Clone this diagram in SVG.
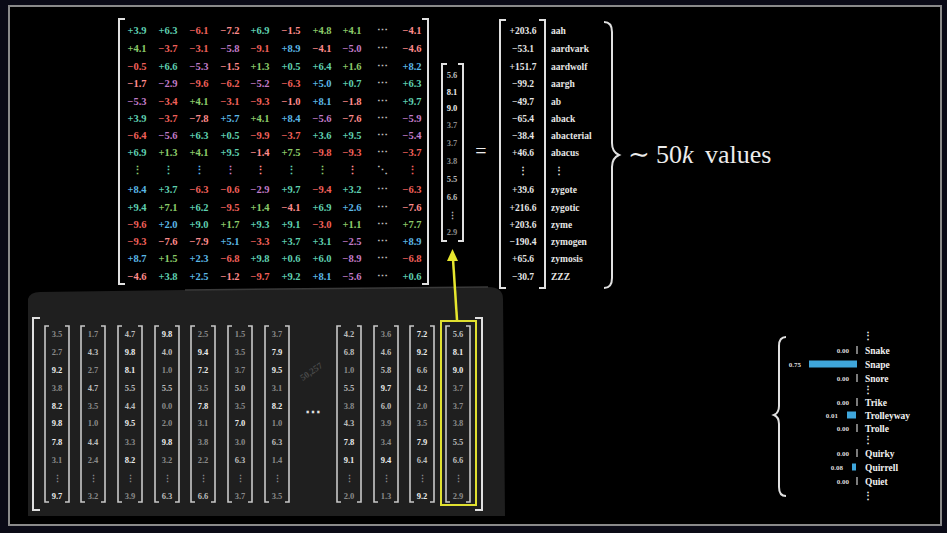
<svg xmlns="http://www.w3.org/2000/svg" width="947" height="533" viewBox="0 0 947 533">
<style>
text{font-family:"Liberation Serif","DejaVu Serif",serif;font-weight:bold}
.m{font-size:10.5px;text-anchor:middle}
.p1{fill:#5FD0B0}.p2{fill:#8CCB6A}.p3{fill:#5CB8E6}
.n1{fill:#F0605A}.n2{fill:#FF8C8C}.n3{fill:#C27CC8}
.dt{fill:#bbbbbb}
.br{fill:none;stroke:#e0e0e0;stroke-width:2}
.sbr{fill:none;stroke:#c8c8c8;stroke-width:1.6}
.sv{font-size:8.5px;text-anchor:middle}
.b1{fill:#8a8a8a}.b2{fill:#bdbdbd}.b3{fill:#ececec}
.ov{font-size:9.5px;text-anchor:middle;fill:#e6e6e6}
.lb{font-size:9.5px;fill:#e6e6e6}
.sm{font-size:7px;fill:#dddddd;text-anchor:end}
.sl{font-size:9.5px;fill:#f0f0f0}
.tk{stroke:#cfcfcf;stroke-width:1.2}
.bar{fill:#3FA6DB}
</style>
<rect x="0" y="0" width="947" height="533" fill="#0a0a16"/>
<rect x="9" y="6" width="932" height="519" fill="#000" stroke="#8a8a8a" stroke-width="2"/>

<g id="weight-matrix">
<path class="br" d="M125 19 L119 19 L119 284 L125 284"/>
<path class="br" d="M422 19 L428 19 L428 284 L422 284"/>
<text class="m" y="34"><tspan x="137" class="p1">+3.9</tspan><tspan x="168" class="p1">+6.3</tspan><tspan x="199" class="n1">−6.1</tspan><tspan x="230" class="n2">−7.2</tspan><tspan x="260" class="p1">+6.9</tspan><tspan x="291" class="n2">−1.5</tspan><tspan x="322" class="p2">+4.8</tspan><tspan x="352" class="p2">+4.1</tspan><tspan x="382" class="dt">⋯</tspan><tspan x="412" class="n2">−4.1</tspan></text>
<text class="m" y="52"><tspan x="137" class="p2">+4.1</tspan><tspan x="168" class="n1">−3.7</tspan><tspan x="199" class="n1">−3.1</tspan><tspan x="230" class="n3">−5.8</tspan><tspan x="260" class="n1">−9.1</tspan><tspan x="291" class="p3">+8.9</tspan><tspan x="322" class="n2">−4.1</tspan><tspan x="352" class="n3">−5.0</tspan><tspan x="382" class="dt">⋯</tspan><tspan x="412" class="n2">−4.6</tspan></text>
<text class="m" y="70"><tspan x="137" class="n1">−0.5</tspan><tspan x="168" class="p1">+6.6</tspan><tspan x="199" class="n3">−5.3</tspan><tspan x="230" class="n2">−1.5</tspan><tspan x="260" class="p2">+1.3</tspan><tspan x="291" class="p1">+0.5</tspan><tspan x="322" class="p1">+6.4</tspan><tspan x="352" class="p2">+1.6</tspan><tspan x="382" class="dt">⋯</tspan><tspan x="412" class="p3">+8.2</tspan></text>
<text class="m" y="87"><tspan x="137" class="n2">−1.7</tspan><tspan x="168" class="n3">−2.9</tspan><tspan x="199" class="n1">−9.6</tspan><tspan x="230" class="n1">−6.2</tspan><tspan x="260" class="n3">−5.2</tspan><tspan x="291" class="n1">−6.3</tspan><tspan x="322" class="p3">+5.0</tspan><tspan x="352" class="p1">+0.7</tspan><tspan x="382" class="dt">⋯</tspan><tspan x="412" class="p1">+6.3</tspan></text>
<text class="m" y="105"><tspan x="137" class="n3">−5.3</tspan><tspan x="168" class="n1">−3.4</tspan><tspan x="199" class="p2">+4.1</tspan><tspan x="230" class="n1">−3.1</tspan><tspan x="260" class="n1">−9.3</tspan><tspan x="291" class="n2">−1.0</tspan><tspan x="322" class="p3">+8.1</tspan><tspan x="352" class="n2">−1.8</tspan><tspan x="382" class="dt">⋯</tspan><tspan x="412" class="p1">+9.7</tspan></text>
<text class="m" y="122"><tspan x="137" class="p1">+3.9</tspan><tspan x="168" class="n1">−3.7</tspan><tspan x="199" class="n2">−7.8</tspan><tspan x="230" class="p3">+5.7</tspan><tspan x="260" class="p2">+4.1</tspan><tspan x="291" class="p3">+8.4</tspan><tspan x="322" class="n3">−5.6</tspan><tspan x="352" class="n2">−7.6</tspan><tspan x="382" class="dt">⋯</tspan><tspan x="412" class="n3">−5.9</tspan></text>
<text class="m" y="139"><tspan x="137" class="n1">−6.4</tspan><tspan x="168" class="n3">−5.6</tspan><tspan x="199" class="p1">+6.3</tspan><tspan x="230" class="p1">+0.5</tspan><tspan x="260" class="n1">−9.9</tspan><tspan x="291" class="n1">−3.7</tspan><tspan x="322" class="p1">+3.6</tspan><tspan x="352" class="p1">+9.5</tspan><tspan x="382" class="dt">⋯</tspan><tspan x="412" class="n3">−5.4</tspan></text>
<text class="m" y="156"><tspan x="137" class="p1">+6.9</tspan><tspan x="168" class="p2">+1.3</tspan><tspan x="199" class="p2">+4.1</tspan><tspan x="230" class="p1">+9.5</tspan><tspan x="260" class="n2">−1.4</tspan><tspan x="291" class="p2">+7.5</tspan><tspan x="322" class="n1">−9.8</tspan><tspan x="352" class="n1">−9.3</tspan><tspan x="382" class="dt">⋯</tspan><tspan x="412" class="n1">−3.7</tspan></text>
<text class="m" y="174"><tspan x="137" class="p2">⋮</tspan><tspan x="168" class="p1">⋮</tspan><tspan x="199" class="p3">⋮</tspan><tspan x="230" class="n3">⋮</tspan><tspan x="260" class="n2">⋮</tspan><tspan x="291" class="p1">⋮</tspan><tspan x="322" class="p2">⋮</tspan><tspan x="352" class="n2">⋮</tspan><tspan x="382" class="dt">⋱</tspan><tspan x="412" class="n1">⋮</tspan></text>
<text class="m" y="193"><tspan x="137" class="p3">+8.4</tspan><tspan x="168" class="p1">+3.7</tspan><tspan x="199" class="n1">−6.3</tspan><tspan x="230" class="n1">−0.6</tspan><tspan x="260" class="n3">−2.9</tspan><tspan x="291" class="p1">+9.7</tspan><tspan x="322" class="n1">−9.4</tspan><tspan x="352" class="p1">+3.2</tspan><tspan x="382" class="dt">⋯</tspan><tspan x="412" class="n1">−6.3</tspan></text>
<text class="m" y="211"><tspan x="137" class="p1">+9.4</tspan><tspan x="168" class="p2">+7.1</tspan><tspan x="199" class="p1">+6.2</tspan><tspan x="230" class="n1">−9.5</tspan><tspan x="260" class="p2">+1.4</tspan><tspan x="291" class="n2">−4.1</tspan><tspan x="322" class="p1">+6.9</tspan><tspan x="352" class="p3">+2.6</tspan><tspan x="382" class="dt">⋯</tspan><tspan x="412" class="n2">−7.6</tspan></text>
<text class="m" y="228"><tspan x="137" class="n1">−9.6</tspan><tspan x="168" class="p3">+2.0</tspan><tspan x="199" class="p1">+9.0</tspan><tspan x="230" class="p2">+1.7</tspan><tspan x="260" class="p1">+9.3</tspan><tspan x="291" class="p1">+9.1</tspan><tspan x="322" class="n1">−3.0</tspan><tspan x="352" class="p2">+1.1</tspan><tspan x="382" class="dt">⋯</tspan><tspan x="412" class="p2">+7.7</tspan></text>
<text class="m" y="245"><tspan x="137" class="n1">−9.3</tspan><tspan x="168" class="n2">−7.6</tspan><tspan x="199" class="n2">−7.9</tspan><tspan x="230" class="p3">+5.1</tspan><tspan x="260" class="n1">−3.3</tspan><tspan x="291" class="p1">+3.7</tspan><tspan x="322" class="p1">+3.1</tspan><tspan x="352" class="n3">−2.5</tspan><tspan x="382" class="dt">⋯</tspan><tspan x="412" class="p3">+8.9</tspan></text>
<text class="m" y="262"><tspan x="137" class="p3">+8.7</tspan><tspan x="168" class="p2">+1.5</tspan><tspan x="199" class="p3">+2.3</tspan><tspan x="230" class="n1">−6.8</tspan><tspan x="260" class="p1">+9.8</tspan><tspan x="291" class="p1">+0.6</tspan><tspan x="322" class="p1">+6.0</tspan><tspan x="352" class="n3">−8.9</tspan><tspan x="382" class="dt">⋯</tspan><tspan x="412" class="n1">−6.8</tspan></text>
<text class="m" y="280"><tspan x="137" class="n2">−4.6</tspan><tspan x="168" class="p1">+3.8</tspan><tspan x="199" class="p3">+2.5</tspan><tspan x="230" class="n2">−1.2</tspan><tspan x="260" class="n1">−9.7</tspan><tspan x="291" class="p1">+9.2</tspan><tspan x="322" class="p3">+8.1</tspan><tspan x="352" class="n3">−5.6</tspan><tspan x="382" class="dt">⋯</tspan><tspan x="412" class="p1">+0.6</tspan></text>
</g>

<g id="input-vector">
<path class="br" d="M447 64 L442 64 L442 241 L447 241"/>
<path class="br" d="M458 64 L463 64 L463 241 L458 241"/>
<text class="sv" x="452"><tspan x="452" y="78" class="b2">5.6</tspan><tspan x="452" y="95" class="b3">8.1</tspan><tspan x="452" y="111" class="b3">9.0</tspan><tspan x="452" y="128" class="b1">3.7</tspan><tspan x="452" y="146" class="b1">3.7</tspan><tspan x="452" y="164" class="b1">3.8</tspan><tspan x="452" y="182" class="b2">5.5</tspan><tspan x="452" y="200" class="b2">6.6</tspan><tspan x="452" y="219" class="b2">⋮</tspan><tspan x="452" y="235" class="b1">2.9</tspan></text>
</g>

<g id="equals">
<text x="481" y="158" style="font-size:20px;font-weight:normal;fill:#eeeeee;text-anchor:middle">=</text>
</g>

<g id="output-vector">
<path class="br" d="M506 20 L500 20 L500 288 L506 288"/>
<path class="br" d="M539 20 L545 20 L545 288 L539 288"/>
<text class="ov"><tspan x="523" y="33.5">+203.6</tspan><tspan x="523" y="51.5">−53.1</tspan><tspan x="523" y="69.5">+151.7</tspan><tspan x="523" y="86.5">−99.2</tspan><tspan x="523" y="104.5">−49.7</tspan><tspan x="523" y="121.5">−65.4</tspan><tspan x="523" y="138.5">−38.4</tspan><tspan x="523" y="155.5">+46.6</tspan><tspan x="523" y="174">⋮</tspan><tspan x="523" y="192.5">+39.6</tspan><tspan x="523" y="210.5">+216.6</tspan><tspan x="523" y="227.5">+203.6</tspan><tspan x="523" y="244.5">−190.4</tspan><tspan x="523" y="261.5">+65.6</tspan><tspan x="523" y="279.5">−30.7</tspan></text>
<text class="lb"><tspan x="551" y="33.5">aah</tspan><tspan x="551" y="51.5">aardvark</tspan><tspan x="551" y="69.5">aardwolf</tspan><tspan x="551" y="86.5">aargh</tspan><tspan x="551" y="104.5">ab</tspan><tspan x="551" y="121.5">aback</tspan><tspan x="551" y="138.5">abacterial</tspan><tspan x="551" y="155.5">abacus</tspan><tspan x="554" y="174">⋮</tspan><tspan x="551" y="192.5">zygote</tspan><tspan x="551" y="210.5">zygotic</tspan><tspan x="551" y="227.5">zyme</tspan><tspan x="551" y="244.5">zymogen</tspan><tspan x="551" y="261.5">zymosis</tspan><tspan x="551" y="279.5">ZZZ</tspan></text>
</g>

<g id="vocab-brace">
<path class="br" d="M604 22 Q612 22 612 32 L612 143 Q612 152 619 155 Q612 158 612 167 L612 278 Q612 288 604 288"/>
<text y="163" style="font-size:26px;font-weight:normal;fill:#ececec"><tspan x="628">∼</tspan><tspan x="656">50</tspan><tspan font-style="italic">k</tspan><tspan x="705">values</tspan></text>
</g>

<g id="embedding-panel">
<path d="M28 299 Q30 292 40 292 L185 290 L488 287 Q503 287 503 299 L505 516 L28 516 Z" fill="#1f1f1f"/>
<path d="M185 290 L488 287" stroke="#3a3a3a" stroke-width="1.5" fill="none"/>
<path class="br" d="M40 318 L33 318 L33 510 L40 510"/>
<path class="br" d="M475 318 L482 318 L482 510 L475 510"/>
<g id="col-1"><path class="sbr" d="M49 326 L45 326 L45 502 L49 502 M65 326 L69 326 L69 502 L65 502"/><text class="sv"><tspan x="57" y="337" class="b1">3.5</tspan><tspan x="57" y="355" class="b1">2.7</tspan><tspan x="57" y="373" class="b3">9.2</tspan><tspan x="57" y="391" class="b1">3.8</tspan><tspan x="57" y="409" class="b3">8.2</tspan><tspan x="57" y="426" class="b3">9.8</tspan><tspan x="57" y="445" class="b3">7.8</tspan><tspan x="57" y="463" class="b1">3.1</tspan><tspan x="57" y="482" class="b1">⋮</tspan><tspan x="57" y="499" class="b3">9.7</tspan></text></g>
<g id="col-2"><path class="sbr" d="M85 326 L81 326 L81 502 L85 502 M101 326 L105 326 L105 502 L101 502"/><text class="sv"><tspan x="93" y="337" class="b1">1.7</tspan><tspan x="93" y="355" class="b2">4.3</tspan><tspan x="93" y="373" class="b1">2.7</tspan><tspan x="93" y="391" class="b2">4.7</tspan><tspan x="93" y="409" class="b1">3.5</tspan><tspan x="93" y="426" class="b1">1.0</tspan><tspan x="93" y="445" class="b2">4.4</tspan><tspan x="93" y="463" class="b1">2.4</tspan><tspan x="93" y="482" class="b1">⋮</tspan><tspan x="93" y="499" class="b1">3.2</tspan></text></g>
<g id="col-3"><path class="sbr" d="M122 326 L118 326 L118 502 L122 502 M138 326 L142 326 L142 502 L138 502"/><text class="sv"><tspan x="130" y="337" class="b2">4.7</tspan><tspan x="130" y="355" class="b3">9.8</tspan><tspan x="130" y="373" class="b3">8.1</tspan><tspan x="130" y="391" class="b2">5.5</tspan><tspan x="130" y="409" class="b2">4.4</tspan><tspan x="130" y="426" class="b3">9.5</tspan><tspan x="130" y="445" class="b1">3.3</tspan><tspan x="130" y="463" class="b3">8.2</tspan><tspan x="130" y="482" class="b1">⋮</tspan><tspan x="130" y="499" class="b1">3.9</tspan></text></g>
<g id="col-4"><path class="sbr" d="M159 326 L155 326 L155 502 L159 502 M175 326 L179 326 L179 502 L175 502"/><text class="sv"><tspan x="167" y="337" class="b3">9.8</tspan><tspan x="167" y="355" class="b2">4.0</tspan><tspan x="167" y="373" class="b1">1.0</tspan><tspan x="167" y="391" class="b2">5.5</tspan><tspan x="167" y="409" class="b1">0.0</tspan><tspan x="167" y="426" class="b1">2.0</tspan><tspan x="167" y="445" class="b3">9.8</tspan><tspan x="167" y="463" class="b1">3.2</tspan><tspan x="167" y="482" class="b1">⋮</tspan><tspan x="167" y="499" class="b2">6.3</tspan></text></g>
<g id="col-5"><path class="sbr" d="M195 326 L191 326 L191 502 L195 502 M211 326 L215 326 L215 502 L211 502"/><text class="sv"><tspan x="203" y="337" class="b1">2.5</tspan><tspan x="203" y="355" class="b3">9.4</tspan><tspan x="203" y="373" class="b3">7.2</tspan><tspan x="203" y="391" class="b1">3.5</tspan><tspan x="203" y="409" class="b3">7.8</tspan><tspan x="203" y="426" class="b1">3.1</tspan><tspan x="203" y="445" class="b1">3.8</tspan><tspan x="203" y="463" class="b1">2.2</tspan><tspan x="203" y="482" class="b1">⋮</tspan><tspan x="203" y="499" class="b2">6.6</tspan></text></g>
<g id="col-6"><path class="sbr" d="M232 326 L228 326 L228 502 L232 502 M248 326 L252 326 L252 502 L248 502"/><text class="sv"><tspan x="240" y="337" class="b1">1.5</tspan><tspan x="240" y="355" class="b1">3.5</tspan><tspan x="240" y="373" class="b1">3.7</tspan><tspan x="240" y="391" class="b2">5.0</tspan><tspan x="240" y="409" class="b1">3.5</tspan><tspan x="240" y="426" class="b3">7.0</tspan><tspan x="240" y="445" class="b1">3.0</tspan><tspan x="240" y="463" class="b2">6.3</tspan><tspan x="240" y="482" class="b1">⋮</tspan><tspan x="240" y="499" class="b1">3.7</tspan></text></g>
<g id="col-7"><path class="sbr" d="M269 326 L265 326 L265 502 L269 502 M285 326 L289 326 L289 502 L285 502"/><text class="sv"><tspan x="277" y="337" class="b1">3.7</tspan><tspan x="277" y="355" class="b3">7.9</tspan><tspan x="277" y="373" class="b3">9.5</tspan><tspan x="277" y="391" class="b1">3.1</tspan><tspan x="277" y="409" class="b3">8.2</tspan><tspan x="277" y="426" class="b1">1.0</tspan><tspan x="277" y="445" class="b2">6.3</tspan><tspan x="277" y="463" class="b1">1.4</tspan><tspan x="277" y="482" class="b1">⋮</tspan><tspan x="277" y="499" class="b1">3.5</tspan></text></g>
<text x="313" y="374" transform="rotate(-35 313 374)" style="font-size:9px;fill:#4a4a4a;text-anchor:middle">50,257</text>
<text x="313" y="417" style="font-size:16px;fill:#e0e0e0;text-anchor:middle">⋯</text>
<g id="col-8"><path class="sbr" d="M341 326 L337 326 L337 502 L341 502 M357 326 L361 326 L361 502 L357 502"/><text class="sv"><tspan x="349" y="337" class="b2">4.2</tspan><tspan x="349" y="355" class="b2">6.8</tspan><tspan x="349" y="373" class="b1">1.0</tspan><tspan x="349" y="391" class="b2">5.5</tspan><tspan x="349" y="409" class="b1">3.8</tspan><tspan x="349" y="426" class="b2">4.3</tspan><tspan x="349" y="445" class="b3">7.8</tspan><tspan x="349" y="463" class="b3">9.1</tspan><tspan x="349" y="482" class="b1">⋮</tspan><tspan x="349" y="499" class="b1">2.0</tspan></text></g>
<g id="col-9"><path class="sbr" d="M378 326 L374 326 L374 502 L378 502 M394 326 L398 326 L398 502 L394 502"/><text class="sv"><tspan x="386" y="337" class="b1">3.6</tspan><tspan x="386" y="355" class="b2">4.6</tspan><tspan x="386" y="373" class="b2">5.8</tspan><tspan x="386" y="391" class="b3">9.7</tspan><tspan x="386" y="409" class="b2">6.0</tspan><tspan x="386" y="426" class="b1">3.9</tspan><tspan x="386" y="445" class="b1">3.4</tspan><tspan x="386" y="463" class="b3">9.4</tspan><tspan x="386" y="482" class="b1">⋮</tspan><tspan x="386" y="499" class="b1">1.3</tspan></text></g>
<g id="col-10"><path class="sbr" d="M414 326 L410 326 L410 502 L414 502 M430 326 L434 326 L434 502 L430 502"/><text class="sv"><tspan x="422" y="337" class="b3">7.2</tspan><tspan x="422" y="355" class="b3">9.2</tspan><tspan x="422" y="373" class="b2">6.6</tspan><tspan x="422" y="391" class="b2">4.2</tspan><tspan x="422" y="409" class="b1">2.0</tspan><tspan x="422" y="426" class="b1">3.5</tspan><tspan x="422" y="445" class="b3">7.9</tspan><tspan x="422" y="463" class="b2">6.4</tspan><tspan x="422" y="482" class="b1">⋮</tspan><tspan x="422" y="499" class="b3">9.2</tspan></text></g>
<g id="col-11"><path class="sbr" d="M450 326 L446 326 L446 502 L450 502 M466 326 L470 326 L470 502 L466 502"/><text class="sv"><tspan x="458" y="337" class="b2">5.6</tspan><tspan x="458" y="355" class="b3">8.1</tspan><tspan x="458" y="373" class="b3">9.0</tspan><tspan x="458" y="391" class="b1">3.7</tspan><tspan x="458" y="409" class="b1">3.7</tspan><tspan x="458" y="426" class="b1">3.8</tspan><tspan x="458" y="445" class="b2">5.5</tspan><tspan x="458" y="463" class="b2">6.6</tspan><tspan x="458" y="482" class="b1">⋮</tspan><tspan x="458" y="499" class="b1">2.9</tspan></text></g>
<rect id="highlight" x="441" y="321" width="35" height="184" fill="none" stroke="#E0E030" stroke-width="2"/>
</g>

<g id="connectors">
<line x1="457" y1="320" x2="453" y2="259" stroke="#E6E62E" stroke-width="2.5"/>
<polygon points="452.5,249 458,261 447,261" fill="#E6E62E"/>
</g>

<g id="softmax">
<path class="br" d="M786 337 Q779 337 779 346 L779 406 Q779 413 774 415 Q779 417 779 424 L779 487 Q779 496 786 496"/>
<text class="sl" style="text-anchor:middle"><tspan x="868" y="339">⋮</tspan><tspan x="868" y="393">⋮</tspan><tspan x="868" y="443">⋮</tspan><tspan x="868" y="499">⋮</tspan></text>
<text class="sm"><tspan x="849" y="352.5">0.00</tspan><tspan x="801" y="366.5">0.75</tspan><tspan x="849" y="380.5">0.00</tspan><tspan x="849" y="404.5">0.00</tspan><tspan x="838" y="417.5">0.01</tspan><tspan x="849" y="430.5">0.00</tspan><tspan x="849" y="455.5">0.00</tspan><tspan x="843" y="469.5">0.08</tspan><tspan x="849" y="483.5">0.00</tspan></text>
<line class="tk" x1="857" y1="346" x2="857" y2="354"/>
<line class="tk" x1="857" y1="374" x2="857" y2="382"/>
<line class="tk" x1="857" y1="398" x2="857" y2="406"/>
<line class="tk" x1="857" y1="424" x2="857" y2="432"/>
<line class="tk" x1="857" y1="449" x2="857" y2="457"/>
<line class="tk" x1="857" y1="477" x2="857" y2="485"/>
<rect class="bar" x="809" y="360.5" width="48" height="7"/>
<rect class="bar" x="847" y="411.5" width="9" height="7"/>
<rect class="bar" x="852" y="463.5" width="4" height="7"/>
<text class="sl"><tspan x="865" y="353.5">Snake</tspan><tspan x="865" y="367.5">Snape</tspan><tspan x="865" y="381.5">Snore</tspan><tspan x="865" y="405.5">Trike</tspan><tspan x="865" y="418.5">Trolleyway</tspan><tspan x="865" y="431.5">Trolle</tspan><tspan x="865" y="456.5">Quirky</tspan><tspan x="865" y="470.5">Quirrell</tspan><tspan x="865" y="484.5">Quiet</tspan></text>
</g>
</svg>
